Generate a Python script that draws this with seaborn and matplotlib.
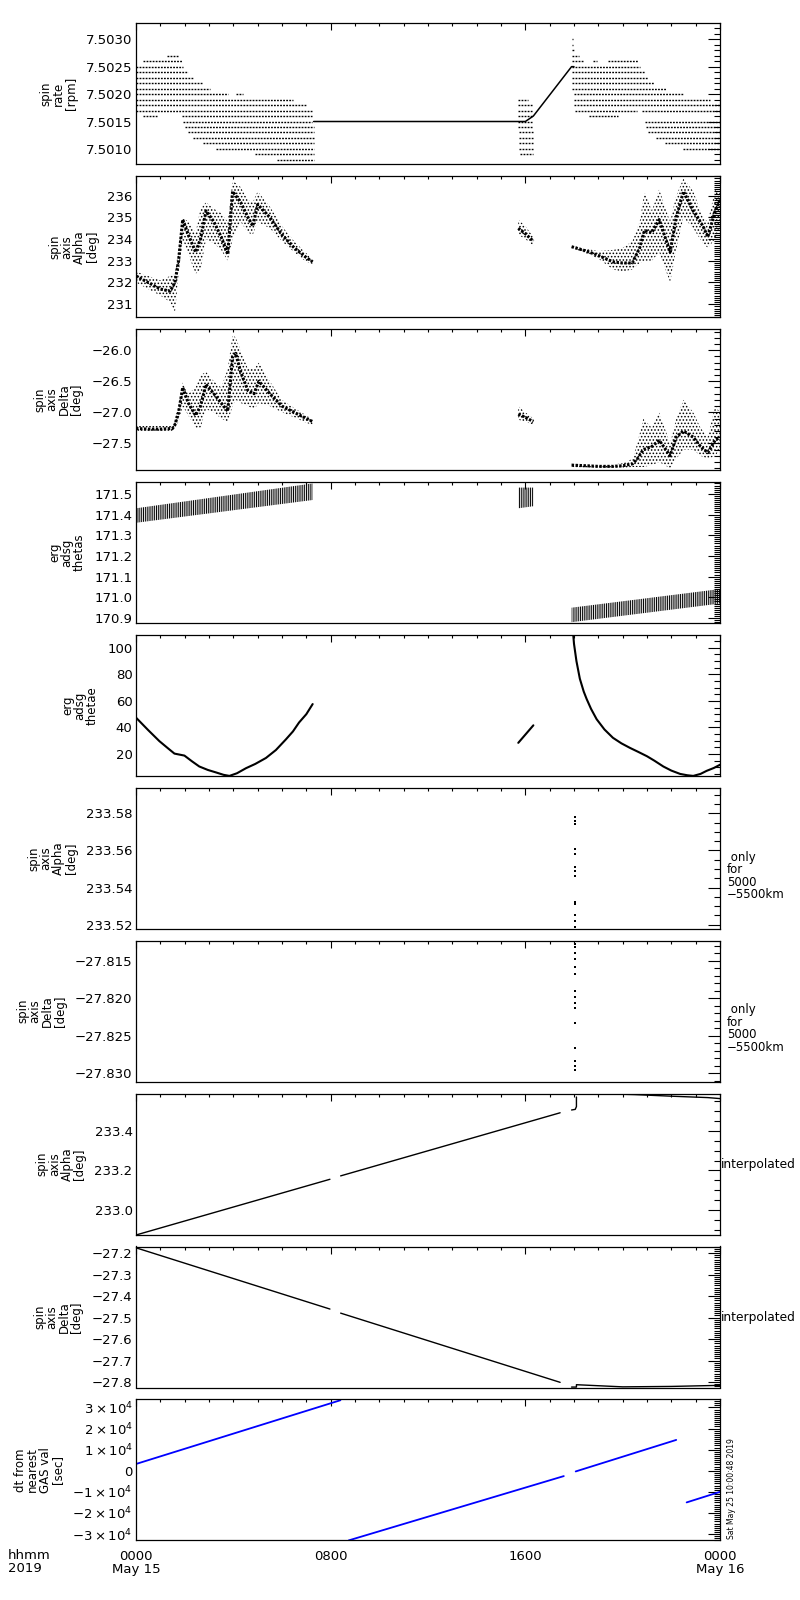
import numpy as np
import pandas as pd
import matplotlib
matplotlib.use("Agg")
import matplotlib.pyplot as plt
import seaborn as sns
from matplotlib.ticker import MultipleLocator, FixedLocator, FuncFormatter

# ---------------- data (time in hours of 2019 May 15) ----------------
# Panel 1: spin rate, quantised levels drawn as dotted runs
rate_levels = [7.5027, 7.5026, 7.5025, 7.5024, 7.5023, 7.5022, 7.5021, 7.5020, 7.5020, 7.5019,
               7.5018, 7.5017, 7.5016, 7.5016, 7.5015, 7.5014, 7.5013, 7.5012, 7.5011, 7.5010,
               7.5009, 7.5008,
               7.5019, 7.5018, 7.5017, 7.5016, 7.5015, 7.5014, 7.5013, 7.5012, 7.5011, 7.5010, 7.5009,
               7.5030, 7.5029, 7.5028, 7.5027, 7.5026, 7.5026, 7.5026, 7.5025, 7.5024, 7.5023,
               7.5022, 7.5021, 7.5020, 7.5019, 7.5018, 7.5017, 7.5017, 7.5016, 7.5015, 7.5014,
               7.5013, 7.5012, 7.5011, 7.5010]
rate_t0 = [1.26, 0.30, 0.0, 0.0, 0.0, 0.0, 0.0, 0.0, 4.10, 0.0,
           0.0, 0.0, 0.30, 1.88, 1.95, 2.00, 2.15, 2.33, 2.74, 3.30,
           4.90, 5.80,
           15.70, 15.70, 15.70, 15.70, 15.70, 15.70, 15.75, 15.75, 15.75, 15.75, 15.80,
           17.93, 17.93, 17.93, 17.93, 17.93, 18.80, 19.40, 17.93, 17.93, 17.93,
           17.93, 17.93, 17.98, 17.98, 18.00, 18.05, 20.80, 18.60, 20.90, 20.96,
           21.05, 21.37, 21.74, 22.47]
rate_t1 = [1.77, 1.88, 1.95, 2.12, 2.33, 2.74, 3.04, 3.80, 4.40, 6.47,
           7.04, 7.22, 0.85, 7.22, 7.22, 7.30, 7.30, 7.30, 7.30, 7.30,
           7.30, 7.30,
           16.10, 16.30, 16.30, 16.30, 16.30, 16.30, 16.30, 16.30, 16.30, 16.30, 16.30,
           17.96, 17.96, 18.05, 18.20, 18.40, 18.95, 20.65, 20.70, 20.90, 21.05,
           21.30, 21.80, 22.50, 23.60, 24.00, 20.60, 24.00, 19.80, 24.00, 24.00,
           24.00, 24.00, 24.00, 24.00]
rate_line_t = [7.30, 16.00, 16.33, 17.90, 18.00]
rate_line_v = [7.5015, 7.5015, 7.5016, 7.5025, 7.5025]

# Panel 2: spin axis Alpha cloud (core, low, high)
alpA_t = [0, 0.5, 1.0, 1.4, 1.6, 1.75, 1.92, 2.15, 2.45, 2.65, 2.88, 3.2, 3.5, 3.77, 3.97, 4.3,
          4.6, 4.8, 5.0, 5.5, 6.0, 6.5, 7.0, 7.26]
alpA_c = [232.3, 232.0, 231.7, 231.6, 232.0, 233.0, 234.9, 234.2, 233.4, 234.0, 235.3, 234.8,
          234.1, 233.3, 236.2, 235.7, 235.0, 234.6, 235.6, 235.0, 234.2, 233.6, 233.15, 232.95]
alpA_lo = [232.0, 231.7, 231.4, 231.1, 230.6, 232.4, 234.0, 233.3, 232.4, 232.6, 234.0, 233.8,
           233.5, 233.0, 234.0, 234.8, 234.3, 234.2, 234.8, 234.5, 233.9, 233.4, 232.95, 232.85]
alpA_hi = [232.5, 232.3, 232.1, 232.3, 232.4, 233.6, 235.0, 234.8, 234.3, 235.4, 235.7, 235.4,
           235.2, 234.8, 236.7, 236.4, 235.8, 235.7, 236.2, 235.5, 234.6, 233.9, 233.35, 233.05]
alpB_t = [15.71, 16.0, 16.33]
alpB_c = [234.5, 234.25, 233.9]
alpB_lo = [234.2, 234.0, 233.7]
alpB_hi = [234.9, 234.6, 234.1]
alpC_t = [17.9, 18.5, 19.0, 19.6, 20.0, 20.4, 20.7, 20.9, 21.2, 21.5, 21.95, 22.2, 22.5, 22.9,
          23.3, 23.5, 23.8, 24.0]
alpC_c = [233.65, 233.45, 233.25, 232.95, 232.9, 232.9, 233.6, 234.4, 234.3, 234.9, 233.4,
          235.0, 236.2, 235.3, 234.6, 234.1, 235.3, 235.8]
alpC_lo = [233.6, 233.35, 233.1, 232.6, 232.5, 232.6, 232.9, 233.0, 233.0, 233.4, 232.0, 233.5,
           235.0, 234.5, 233.8, 233.6, 234.0, 234.6]
alpC_hi = [233.7, 233.55, 233.45, 233.5, 233.6, 233.9, 234.8, 236.2, 235.3, 236.3, 234.8, 236.0,
           236.8, 236.2, 235.0, 234.8, 236.3, 236.1]

# Panel 3: spin axis Delta cloud
delA_t = [0, 0.5, 1.0, 1.5, 1.6, 1.75, 1.92, 2.15, 2.45, 2.65, 2.88, 3.2, 3.5, 3.77, 3.97, 4.1,
          4.3, 4.6, 4.85, 5.05, 5.5, 6.0, 6.5, 7.0, 7.26]
delA_c = [-27.26, -27.27, -27.27, -27.26, -27.2, -27.0, -26.6, -26.85, -27.05, -26.9, -26.55,
          -26.7, -26.85, -26.98, -26.1, -26.05, -26.35, -26.65, -26.7, -26.5, -26.7, -26.9,
          -27.0, -27.1, -27.15]
delA_lo = [-27.3, -27.3, -27.3, -27.3, -27.25, -27.15, -26.9, -27.05, -27.25, -27.25, -26.95,
           -27.0, -27.1, -27.15, -26.9, -26.8, -26.85, -26.9, -26.95, -26.85, -26.9, -27.0,
           -27.08, -27.17, -27.2]
delA_hi = [-27.22, -27.22, -27.22, -27.22, -27.1, -26.9, -26.5, -26.7, -26.6, -26.4, -26.35,
           -26.5, -26.6, -26.3, -25.75, -25.8, -26.0, -26.3, -26.3, -26.2, -26.5, -26.8,
           -26.93, -27.05, -27.12]
delB_t = [15.71, 16.0, 16.33]
delB_c = [-27.03, -27.08, -27.15]
delB_lo = [-27.12, -27.15, -27.2]
delB_hi = [-26.9, -27.0, -27.1]
delC_t = [17.9, 18.5, 19.0, 19.6, 20.0, 20.4, 20.6, 20.85, 21.2, 21.5, 21.95, 22.2, 22.5, 22.9,
          23.2, 23.5, 23.8, 24.0]
delC_c = [-27.85, -27.86, -27.87, -27.87, -27.86, -27.83, -27.75, -27.6, -27.55, -27.45, -27.7,
          -27.4, -27.3, -27.4, -27.55, -27.65, -27.45, -27.4]
delC_lo = [-27.88, -27.89, -27.9, -27.9, -27.9, -27.88, -27.88, -27.88, -27.85, -27.8, -27.9,
           -27.75, -27.6, -27.6, -27.7, -27.75, -27.7, -27.6]
delC_hi = [-27.83, -27.84, -27.85, -27.84, -27.82, -27.75, -27.5, -27.1, -27.25, -27.0, -27.5,
           -27.1, -26.8, -27.0, -27.25, -27.4, -26.9, -27.0]

# Panel 4: erg adsg thetas bands
thsA_t, thsA_lo, thsA_hi = [0, 7.26], [171.36, 171.47], [171.43, 171.55]
thsB_t, thsB_lo, thsB_hi = [15.71, 16.33], [171.43, 171.44], [171.53, 171.53]
thsC_t, thsC_lo, thsC_hi = [17.9, 24.0], [170.88, 170.97], [170.95, 171.04]

# Panel 5: erg adsg thetae
theA_t = [0, 0.5, 0.96, 1.3, 1.58, 1.99, 2.3, 2.6, 2.95, 3.29, 3.6, 3.84, 4.15, 4.52, 4.9, 5.34,
          5.75, 6.16, 6.45, 6.7, 7.0, 7.26]
theA_v = [47.4, 38.0, 29.7, 24.5, 20.3, 18.8, 14.5, 10.6, 8.0, 6.1, 4.3, 3.5, 5.5, 9.3, 12.5, 17.0,
          23.0, 31.0, 37.0, 43.7, 50.0, 57.6]
theB_t = [15.71, 16.33]
theB_v = [28.4, 41.6]
theC_t = [17.97, 18.0, 18.1, 18.24, 18.4, 18.52, 18.7, 18.93, 19.25, 19.6, 19.95, 20.3, 20.65, 21.0,
          21.3, 21.67, 22.0, 22.36, 22.65, 22.9, 23.2, 23.45, 23.75, 24.0]
theC_v = [109.7, 103.0, 90.0, 76.7, 67.0, 61.4, 54.0, 46.2, 38.5, 32.2, 28.0, 24.6, 21.5, 18.3,
          15.0, 10.6, 7.5, 5.0, 4.0, 3.5, 5.0, 7.3, 9.5, 11.9]

# Panel 6/7: only for 5000-5500 km
alp55_v = [233.578, 233.576, 233.574, 233.561, 233.558, 233.551, 233.549, 233.546, 233.532,
           233.531, 233.525, 233.522, 233.519]
alp55_t = [18.05] * len(alp55_v)
del55_v = [-27.8124, -27.8128, -27.8131, -27.8140, -27.8148, -27.8158, -27.8167, -27.8190,
           -27.8198, -27.8206, -27.8213, -27.8233, -27.8266, -27.8283, -27.8290, -27.8295]
del55_t = [18.05] * len(del55_v)

# Panel 8/9: interpolated
ialp_t = [[0, 7.97], [8.41, 17.43], [17.9, 18.05, 18.1, 18.1], [18.3, 19.0, 20.5, 22.0, 23.5, 24.0]]
ialp_v = [[232.877, 233.156], [233.173, 233.489], [233.503, 233.506, 233.52, 233.568],
          [233.59, 233.585, 233.58, 233.572, 233.565, 233.56]]
idel_t = [[0, 7.97], [8.41, 17.43], [17.9, 18.1, 18.1, 20.0, 22.0, 24.0]]
idel_v = [[-27.175, -27.46], [-27.479, -27.801], [-27.823, -27.823, -27.812, -27.822, -27.82, -27.815]]

# Panel 10: dt from nearest GAS val
dt_t = [[0, 8.4], [8.74, 17.58], [18.07, 22.2], [22.63, 24.0]]
dt_v = [[3200, 33400], [-33000, -2540], [-330, 14600], [-15000, -10000]]

ylabels = ["spin\nrate\n[rpm]", "spin\naxis\nAlpha\n[deg]", "spin\naxis\nDelta\n[deg]",
           "erg\nadsg\nthetas", "erg\nadsg\nthetae", "spin\naxis\nAlpha\n[deg]",
           "spin\naxis\nDelta\n[deg]", "spin\naxis\nAlpha\n[deg]", "spin\naxis\nDelta\n[deg]",
           "dt from\nnearest\nGAS val\n[sec]"]
xtick_labels = ["0000\nMay 15", "0800", "1600", "0000\nMay 16"]

# ---------------- figure ----------------
sns.set_theme(style="white")
plt.rcParams["font.family"] = ["DejaVu Sans"]
plt.rcParams["hatch.linewidth"] = 0.7
plt.rcParams["axes.edgecolor"] = "black"
plt.rcParams["text.color"] = "black"
plt.rcParams["axes.labelcolor"] = "black"
plt.rcParams["xtick.color"] = "black"
plt.rcParams["ytick.color"] = "black"

W, H = 800, 1600
L, R = 136, 720
PH = 141
fig = plt.figure(figsize=(8, 16), dpi=100)
axes = []
for i in range(10):
    top = 23.3 + 152.9 * i
    axes.append(fig.add_axes([L / W, 1 - (top + PH) / H, (R - L) / W, PH / H]))


def fmt(spec):
    return FuncFormatter(lambda v, p: (spec % v).replace("-", "\u2212"))


def style(ax, ylim, major, minor, formatter, label, last=False):
    ax.set_facecolor("white")
    ax.set_xlim(0, 24)
    ax.set_ylim(*ylim)
    ax.xaxis.set_major_locator(FixedLocator([0, 8, 16, 24]))
    ax.xaxis.set_minor_locator(MultipleLocator(1))
    ax.yaxis.set_major_locator(MultipleLocator(major))
    ax.yaxis.set_minor_locator(MultipleLocator(minor))
    ax.yaxis.set_major_formatter(formatter)
    ax.tick_params(which="both", direction="in", top=True, right=True)
    ax.tick_params(axis="y", which="major", length=9, width=0.8, labelsize=9.5, pad=2.5)
    ax.tick_params(axis="y", which="minor", length=4, width=0.8)
    ax.tick_params(axis="x", which="major", length=5, width=0.8)
    ax.tick_params(axis="x", which="minor", length=2.5, width=0.8)
    for s in ax.spines.values():
        s.set_linewidth(0.9)
        s.set_color("black")
    ax.set_ylabel(label, fontsize=8.5, linespacing=0.95, labelpad=6)
    ax.set_xlabel("")
    if last:
        ax.set_xticks([0, 8, 16, 24])
        ax.set_xticklabels(xtick_labels, fontsize=9.5, linespacing=0.95)
        ax.tick_params(axis="x", which="major", pad=7)
    else:
        ax.tick_params(axis="x", labelbottom=False)


def band(ax, t, lo, hi, hatch):
    ax.fill_between(t, lo, hi, facecolor="none", edgecolor="black", hatch=hatch, linewidth=0)


def line(ax, t, v, lw=1.0, color="black", dashes=None):
    l = sns.lineplot(x=t, y=v, ax=ax, color=color, linewidth=lw, estimator=None, sort=False)
    if dashes is not None:
        l.lines[-1].set_dashes(dashes)


# Panel 1
ax = axes[0]
ax.hlines(rate_levels, rate_t0, rate_t1, colors="black", linestyles=(0, (1.3, 0.9)), linewidth=1.0)
line(ax, rate_line_t, rate_line_v, lw=1.1)
style(ax, (7.50072, 7.50329), 0.0005, 0.0001, fmt("%.4f"), ylabels[0])

# Panel 2
ax = axes[1]
for t, c, lo, hi in [(alpA_t, alpA_c, alpA_lo, alpA_hi), (alpB_t, alpB_c, alpB_lo, alpB_hi),
                     (alpC_t, alpC_c, alpC_lo, alpC_hi)]:
    band(ax, t, lo, hi, ".....")
    line(ax, t, c, lw=2.2, dashes=(0.8, 0.5))
style(ax, (230.4, 236.9), 1, 0.1, fmt("%d"), ylabels[1])

# Panel 3
ax = axes[2]
for t, c, lo, hi in [(delA_t, delA_c, delA_lo, delA_hi), (delB_t, delB_c, delB_lo, delB_hi),
                     (delC_t, delC_c, delC_lo, delC_hi)]:
    band(ax, t, lo, hi, ".....")
    line(ax, t, c, lw=2.2, dashes=(0.8, 0.5))
style(ax, (-27.93, -25.66), 0.5, 0.1, fmt("%.1f"), ylabels[2])

# Panel 4
ax = axes[3]
for t, lo, hi in [(thsA_t, thsA_lo, thsA_hi), (thsB_t, thsB_lo, thsB_hi), (thsC_t, thsC_lo, thsC_hi)]:
    band(ax, t, lo, hi, "|||||||||")
style(ax, (170.876, 171.557), 0.1, 0.01, fmt("%.1f"), ylabels[3])

# Panel 5
ax = axes[4]
for t, v in [(theA_t, theA_v), (theB_t, theB_v), (theC_t, theC_v)]:
    line(ax, t, v, lw=1.5)
style(ax, (3.5, 109.7), 20, 5, fmt("%d"), ylabels[4])

# Panel 6
ax = axes[5]
sns.scatterplot(x=alp55_t, y=alp55_v, ax=ax, color="black", marker="s", s=2, linewidth=0)
style(ax, (233.5178, 233.5937), 0.02, 0.005, fmt("%.2f"), ylabels[5])
ax.text(1.012, 0.555, " only\nfor\n5000\n\u22125500km", transform=ax.transAxes, va="top",
        ha="left", fontsize=8.5, linespacing=0.95)

# Panel 7
ax = axes[6]
sns.scatterplot(x=del55_t, y=del55_v, ax=ax, color="black", marker="s", s=2, linewidth=0)
style(ax, (-27.8311, -27.8123), 0.005, 0.001, fmt("%.3f"), ylabels[6])
ax.text(1.012, 0.555, " only\nfor\n5000\n\u22125500km", transform=ax.transAxes, va="top",
        ha="left", fontsize=8.5, linespacing=0.95)

# Panel 8
ax = axes[7]
for t, v in zip(ialp_t, ialp_v):
    line(ax, t, v, lw=1.0)
style(ax, (232.879, 233.585), 0.2, 0.05, fmt("%.1f"), ylabels[7])
ax.text(1.002, 0.5, "interpolated", transform=ax.transAxes, va="center", ha="left", fontsize=8.8)

# Panel 9
ax = axes[8]
for t, v in zip(idel_t, idel_v):
    line(ax, t, v, lw=1.0)
style(ax, (-27.825, -27.169), 0.1, 0.01, fmt("%.1f"), ylabels[8])
ax.text(1.002, 0.5, "interpolated", transform=ax.transAxes, va="center", ha="left", fontsize=8.8)

# Panel 10
ax = axes[9]
for t, v in zip(dt_t, dt_v):
    line(ax, t, v, lw=1.3, color="#0000ff")


def sci(v, p):
    n = int(round(v / 1e4))
    if n == 0:
        return "0"
    sign = "-" if n < 0 else ""
    return r"$%s%d\times10^{4}$" % (sign, abs(n))


style(ax, (-33000, 33800), 10000, 1000, FuncFormatter(sci), ylabels[9], last=True)

fig.text(8 / W, 1 - 1549 / H, "hhmm\n2019", va="top", ha="left", fontsize=9.5, linespacing=0.95)
fig.text(727 / W, 1 - 1539 / H, "Sat May 25 10:00:48 2019", rotation=90, va="bottom", ha="left",
         fontsize=5.5)

fig.savefig("out.png", dpi=100, facecolor="white")
